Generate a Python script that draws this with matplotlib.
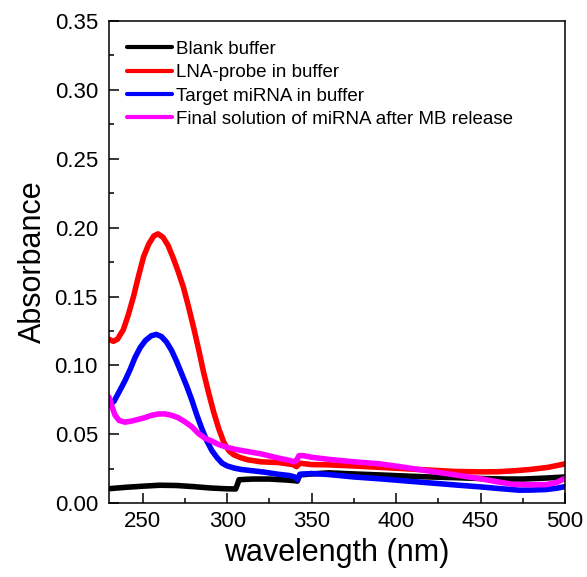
import matplotlib
matplotlib.use("Agg")
import matplotlib.pyplot as plt
from matplotlib.ticker import MultipleLocator

plt.rcParams['font.family'] = ['Liberation Sans', 'DejaVu Sans']

# ---- data ----
labels = ["Blank buffer", "LNA-probe in buffer", "Target miRNA in buffer",
          "Final solution of miRNA after MB release"]

wl_black = [230, 240, 250, 260, 270, 280, 290, 300, 305, 306, 307, 315, 325, 335,
            340, 341.5, 343, 350, 360, 375, 390, 405, 420, 435, 450, 465, 475, 485, 490, 500]
abs_black = [0.0105, 0.0115, 0.0123, 0.0130, 0.0128, 0.0120, 0.0110, 0.0104, 0.0103, 0.0135,
             0.0170, 0.0175, 0.0175, 0.0168, 0.0163, 0.0160, 0.0205, 0.0212, 0.0220, 0.0212,
             0.0205, 0.0197, 0.0190, 0.0185, 0.0179, 0.0175, 0.0175, 0.0180, 0.0183, 0.0190]

wl_red = [230, 232.5, 235, 238.5, 241.5, 244.5, 247.5, 250.5, 253.5, 256.5, 259, 262, 265,
          268, 271, 274, 277, 280, 283, 286, 289, 292, 295, 298, 301, 304, 308, 312, 320,
          330, 339, 341, 343, 350, 360, 375, 390, 405, 420, 435, 450, 460, 470, 480, 490, 500]
abs_red = [0.119, 0.1175, 0.119, 0.126, 0.137, 0.150, 0.165, 0.179, 0.188, 0.194, 0.1955,
           0.193, 0.187, 0.178, 0.168, 0.157, 0.143, 0.128, 0.112, 0.095, 0.080, 0.066,
           0.054, 0.044, 0.038, 0.035, 0.033, 0.0315, 0.0300, 0.0295, 0.0280, 0.0265,
           0.0290, 0.0280, 0.0278, 0.0270, 0.0260, 0.0250, 0.0240, 0.0230, 0.0227, 0.0228,
           0.0235, 0.0245, 0.0260, 0.0285]

wl_blue = [230, 233, 236.5, 239.5, 242.5, 245.5, 248.5, 251.5, 255, 258, 261, 264, 267,
           270, 273, 276, 279, 282, 285, 288, 291, 294, 297, 300, 304, 308, 315, 322, 330,
           337, 340, 341.5, 343, 350, 360, 375, 390, 405, 420, 435, 450, 460, 473, 480,
           489, 495, 500]
abs_blue = [0.071, 0.074, 0.082, 0.089, 0.097, 0.106, 0.113, 0.118, 0.1215, 0.1225, 0.121,
            0.117, 0.111, 0.103, 0.094, 0.085, 0.075, 0.064, 0.054, 0.045, 0.038, 0.033,
            0.029, 0.027, 0.0255, 0.0245, 0.0235, 0.0225, 0.0210, 0.0200, 0.0190, 0.0170,
            0.0210, 0.0215, 0.0208, 0.0190, 0.0177, 0.0162, 0.0147, 0.0132, 0.0118, 0.0107,
            0.0094, 0.0095, 0.0099, 0.0108, 0.0120]

wl_mag = [230, 231.5, 233.5, 236, 239.5, 243, 247, 251, 255, 259, 263, 267, 271, 275, 279,
          283, 287, 291, 295, 300, 305, 311, 320, 330, 337, 339.5, 341, 342.5, 345, 350,
          360, 375, 390, 405, 420, 435, 450, 460, 469, 480, 489, 495, 500]
abs_mag = [0.077, 0.071, 0.064, 0.060, 0.0588, 0.0595, 0.0607, 0.0620, 0.0637, 0.0647,
           0.0648, 0.0638, 0.0620, 0.0590, 0.0555, 0.0505, 0.0470, 0.0450, 0.0425, 0.0405,
           0.0390, 0.0377, 0.0358, 0.0328, 0.0310, 0.0300, 0.0310, 0.0345, 0.0345, 0.0333,
           0.0318, 0.0300, 0.0286, 0.0260, 0.0232, 0.0205, 0.0177, 0.0155, 0.0137, 0.0133,
           0.0135, 0.0150, 0.0180]

colors = ["#000000", "#ff0000", "#0000ff", "#ff00ff"]

# ---- figure ----
fig = plt.figure(figsize=(5.87, 5.77), dpi=100)
ax = fig.add_axes([0.1857, 0.128, 0.7768, 0.8355])

series = [(wl_black, abs_black), (wl_red, abs_red), (wl_blue, abs_blue), (wl_mag, abs_mag)]
for (x, y), c, lab in zip(series, colors, labels):
    ax.plot(x, y, color=c, lw=4.0, label=lab, solid_joinstyle='round', solid_capstyle='round')

ax.set_xlim(230, 500)
ax.set_ylim(0, 0.35)
ax.xaxis.set_major_locator(MultipleLocator(50))
ax.xaxis.set_minor_locator(MultipleLocator(25))
ax.yaxis.set_major_locator(MultipleLocator(0.05))
ax.yaxis.set_minor_locator(MultipleLocator(0.025))
ax.yaxis.set_major_formatter(matplotlib.ticker.FormatStrFormatter('%.2f'))

ax.tick_params(which='both', direction='in', top=False, right=False, width=1.1, labelsize=16)
ax.tick_params(which='major', length=7)
ax.tick_params(which='minor', length=3.6)
ax.tick_params(axis='x', pad=6)
ax.tick_params(axis='y', pad=8)
for s in ax.spines.values():
    s.set_linewidth(1.1)

ax.set_xlabel("wavelength (nm)", fontsize=22, labelpad=4)
ax.set_ylabel("Absorbance", fontsize=22, labelpad=5)

leg = ax.legend(loc='upper left', bbox_to_anchor=(0.039, 0.959), frameon=False,
                fontsize=13.5, handlelength=2.4, handletextpad=0.25, labelspacing=0.33,
                borderaxespad=0, borderpad=0)
for h in leg.get_lines():
    h.set_linewidth(3.0)

fig.savefig("out.png", dpi=100)
